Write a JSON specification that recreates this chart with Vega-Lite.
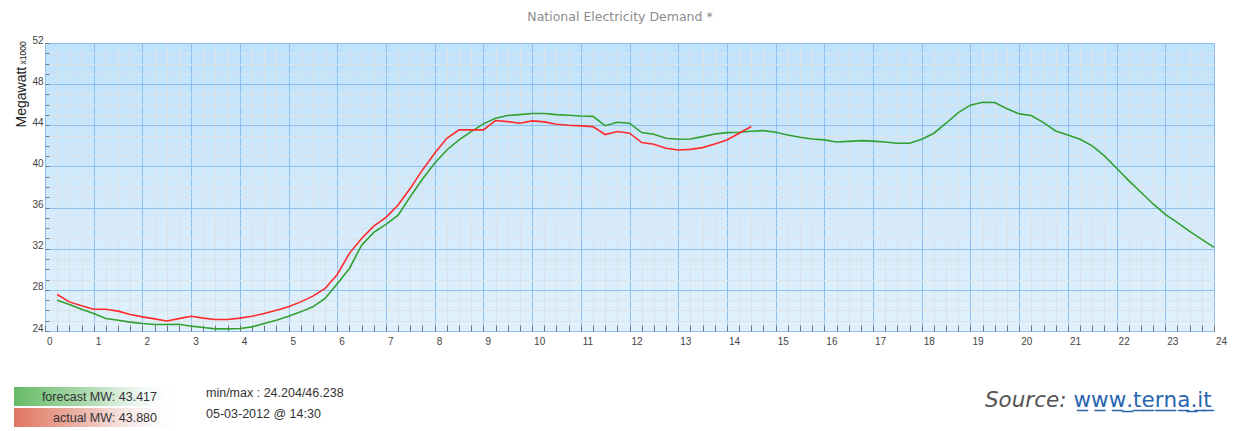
{
  "$schema": "https://vega.github.io/schema/vega-lite/v6.json",
  "autosize": "none",
  "width": 1169,
  "height": 288,
  "padding": {"left": 45, "top": 43, "right": 21, "bottom": 100},
  "background": "white",
  "title": {"text": "National Electricity Demand *", "font": "DejaVu Sans", "fontSize": 12.5, "fontWeight": "normal", "color": "#8c8c8c", "anchor": "middle", "dx": -9.5, "offset": 20, "dy": 18, "baseline": "alphabetic"},
  "config": {
    "view": {"stroke": null, "fill": {"gradient": "linear", "x1": 0, "y1": 0, "x2": 0, "y2": 1, "stops": [{"offset": 0, "color": "#bfe2fb"}, {"offset": 1, "color": "#e1f1fd"}]}}
  },
  "data": {"values": [
    {"h": 0.25, "forecast": 27.0, "actual": 27.55},
    {"h": 0.5, "forecast": 26.58, "actual": 26.83},
    {"h": 0.75, "forecast": 26.12, "actual": 26.45},
    {"h": 1.0, "forecast": 25.7, "actual": 26.12},
    {"h": 1.25, "forecast": 25.22, "actual": 26.12},
    {"h": 1.5, "forecast": 25.05, "actual": 25.93},
    {"h": 1.75, "forecast": 24.86, "actual": 25.6},
    {"h": 2.0, "forecast": 24.73, "actual": 25.37},
    {"h": 2.25, "forecast": 24.63, "actual": 25.18},
    {"h": 2.5, "forecast": 24.63, "actual": 24.98},
    {"h": 2.75, "forecast": 24.66, "actual": 25.2},
    {"h": 3.0, "forecast": 24.47, "actual": 25.44},
    {"h": 3.25, "forecast": 24.34, "actual": 25.25},
    {"h": 3.5, "forecast": 24.204, "actual": 25.12},
    {"h": 3.75, "forecast": 24.21, "actual": 25.12},
    {"h": 4.0, "forecast": 24.24, "actual": 25.25},
    {"h": 4.25, "forecast": 24.4, "actual": 25.44},
    {"h": 4.5, "forecast": 24.73, "actual": 25.7},
    {"h": 4.75, "forecast": 25.05, "actual": 26.02},
    {"h": 5.0, "forecast": 25.44, "actual": 26.35},
    {"h": 5.25, "forecast": 25.86, "actual": 26.83},
    {"h": 5.5, "forecast": 26.35, "actual": 27.39},
    {"h": 5.75, "forecast": 27.16, "actual": 28.14},
    {"h": 6.0, "forecast": 28.6, "actual": 29.5},
    {"h": 6.25, "forecast": 30.08, "actual": 31.55},
    {"h": 6.5, "forecast": 32.35, "actual": 33.0},
    {"h": 6.75, "forecast": 33.59, "actual": 34.2},
    {"h": 7.0, "forecast": 34.37, "actual": 35.05},
    {"h": 7.25, "forecast": 35.27, "actual": 36.25},
    {"h": 7.5, "forecast": 37.06, "actual": 37.87},
    {"h": 7.75, "forecast": 38.78, "actual": 39.66},
    {"h": 8.0, "forecast": 40.31, "actual": 41.28},
    {"h": 8.25, "forecast": 41.6, "actual": 42.74},
    {"h": 8.5, "forecast": 42.58, "actual": 43.55},
    {"h": 8.75, "forecast": 43.39, "actual": 43.55},
    {"h": 9.0, "forecast": 44.14, "actual": 43.55},
    {"h": 9.25, "forecast": 44.69, "actual": 44.46},
    {"h": 9.5, "forecast": 44.95, "actual": 44.36},
    {"h": 9.75, "forecast": 45.04, "actual": 44.2},
    {"h": 10.0, "forecast": 45.14, "actual": 44.43},
    {"h": 10.25, "forecast": 45.14, "actual": 44.33},
    {"h": 10.5, "forecast": 45.04, "actual": 44.1},
    {"h": 10.75, "forecast": 44.98, "actual": 44.0},
    {"h": 11.0, "forecast": 44.9, "actual": 43.94},
    {"h": 11.25, "forecast": 44.87, "actual": 43.87},
    {"h": 11.5, "forecast": 43.96, "actual": 43.1},
    {"h": 11.75, "forecast": 44.3, "actual": 43.39},
    {"h": 12.0, "forecast": 44.2, "actual": 43.23},
    {"h": 12.25, "forecast": 43.29, "actual": 42.32},
    {"h": 12.5, "forecast": 43.13, "actual": 42.16},
    {"h": 12.75, "forecast": 42.74, "actual": 41.77},
    {"h": 13.0, "forecast": 42.64, "actual": 41.6},
    {"h": 13.25, "forecast": 42.67, "actual": 41.66},
    {"h": 13.5, "forecast": 42.9, "actual": 41.83},
    {"h": 13.75, "forecast": 43.16, "actual": 42.19},
    {"h": 14.0, "forecast": 43.29, "actual": 42.58},
    {"h": 14.25, "forecast": 43.32, "actual": 43.23},
    {"h": 14.5, "forecast": 43.417, "actual": 43.88},
    {"h": 14.75, "forecast": 43.48},
    {"h": 15.0, "forecast": 43.32},
    {"h": 15.25, "forecast": 43.06},
    {"h": 15.5, "forecast": 42.84},
    {"h": 15.75, "forecast": 42.67},
    {"h": 16.0, "forecast": 42.58},
    {"h": 16.25, "forecast": 42.38},
    {"h": 16.5, "forecast": 42.44},
    {"h": 16.75, "forecast": 42.51},
    {"h": 17.0, "forecast": 42.46},
    {"h": 17.25, "forecast": 42.38},
    {"h": 17.5, "forecast": 42.25},
    {"h": 17.75, "forecast": 42.25},
    {"h": 18.0, "forecast": 42.64},
    {"h": 18.25, "forecast": 43.23},
    {"h": 18.5, "forecast": 44.2},
    {"h": 18.75, "forecast": 45.24},
    {"h": 19.0, "forecast": 45.96},
    {"h": 19.25, "forecast": 46.238},
    {"h": 19.5, "forecast": 46.21},
    {"h": 19.75, "forecast": 45.6},
    {"h": 20.0, "forecast": 45.11},
    {"h": 20.25, "forecast": 44.95},
    {"h": 20.5, "forecast": 44.26},
    {"h": 20.75, "forecast": 43.45},
    {"h": 21.0, "forecast": 43.06},
    {"h": 21.25, "forecast": 42.64},
    {"h": 21.5, "forecast": 42.0},
    {"h": 21.75, "forecast": 41.02},
    {"h": 22.0, "forecast": 39.82},
    {"h": 22.25, "forecast": 38.62},
    {"h": 22.5, "forecast": 37.49},
    {"h": 22.75, "forecast": 36.35},
    {"h": 23.0, "forecast": 35.34},
    {"h": 23.25, "forecast": 34.53},
    {"h": 23.5, "forecast": 33.69},
    {"h": 23.75, "forecast": 32.91},
    {"h": 24.0, "forecast": 32.13}
  ]},
  "resolve": {"axis": {"x": "independent", "y": "independent"}},
  "layer": [
    {
      "mark": {"type": "line", "strokeWidth": 1.6},
      "encoding": {
        "x": {"field": "h", "type": "quantitative",
          "scale": {"domain": [0, 24], "nice": false, "zero": false},
          "axis": {
            "values": [0,0.25,0.5,0.75,1,1.25,1.5,1.75,2,2.25,2.5,2.75,3,3.25,3.5,3.75,4,4.25,4.5,4.75,5,5.25,5.5,5.75,6,6.25,6.5,6.75,7,7.25,7.5,7.75,8,8.25,8.5,8.75,9,9.25,9.5,9.75,10,10.25,10.5,10.75,11,11.25,11.5,11.75,12,12.25,12.5,12.75,13,13.25,13.5,13.75,14,14.25,14.5,14.75,15,15.25,15.5,15.75,16,16.25,16.5,16.75,17,17.25,17.5,17.75,18,18.25,18.5,18.75,19,19.25,19.5,19.75,20,20.25,20.5,20.75,21,21.25,21.5,21.75,22,22.25,22.5,22.75,23,23.25,23.5,23.75,24],
            "labelExpr": "datum.value % 1 === 0 ? format(datum.value, 'd') : ''",
            "grid": true,
            "gridColor": {"condition": {"test": "datum.value % 1 === 0", "value": "#8dbff0"}, "value": "#dde2e7"},
            "gridWidth": 1,
            "domain": false,
            "ticks": true, "tickSize": -6, "tickColor": "#777777", "tickWidth": 1,
            "labelAlign": "left", "labelOffset": 1.5, "labelBaseline": "top", "labelPadding": 11,
            "labelFont": "Liberation Sans", "labelFontSize": 10, "labelColor": "#444444",
            "labelOverlap": false, "labelFlush": false,
            "title": "Source:", "titleFont": "DejaVu Sans", "titleFontStyle": "italic", "titleFontWeight": "normal",
            "titleFontSize": 21.5, "titleColor": "#555555", "titleAlign": "right", "titleAnchor": "start",
            "titleX": 1021, "titleY": 75, "titleBaseline": "alphabetic"
          }
        },
        "y": {"field": "forecast", "type": "quantitative",
          "scale": {"domain": [24, 52], "nice": false, "zero": false},
          "axis": {
            "values": [24,25,26,27,28,29,30,31,32,33,34,35,36,37,38,39,40,41,42,43,44,45,46,47,48,49,50,51,52],
            "labelExpr": "datum.value % 4 === 0 ? format(datum.value, 'd') : ''",
            "grid": true,
            "gridColor": {"condition": {"test": "datum.value % 4 === 0", "value": "#8dbff0"}, "value": "#dde2e7"},
            "gridWidth": 1,
            "domain": false,
            "ticks": true, "tickSize": -4, "tickColor": "#777777", "tickWidth": 1,
            "labelBaseline": "alphabetic", "labelPadding": 6, "labelAlign": "right",
            "labelFont": "Liberation Sans", "labelFontSize": 10, "labelColor": "#444444",
            "labelOverlap": false, "labelFlush": false,
            "title": "Megawatt", "titleFont": "Liberation Sans", "titleFontSize": 14, "titleFontWeight": "normal",
            "titleColor": "#222222", "titleAngle": 270, "titleAlign": "left", "titleBaseline": "alphabetic",
            "titleX": -20, "titleY": 84
          }
        },
        "color": {"datum": "forecast MW: 43.417", "type": "nominal",
          "scale": {"domain": ["forecast MW: 43.417", "actual MW: 43.880"], "range": ["#30a030", "#ff2a2a"]},
          "legend": {
            "orient": "none", "legendX": 92, "legendY": 343.5, "direction": "vertical",
            "symbolType": "M-13.3,-0.95H2.8V0.95H-13.3Z", "symbolSize": 400, "symbolStrokeWidth": 0,
            "labelAlign": "right", "labelOffset": 0, "labelBaseline": "middle",
            "labelFont": "Liberation Sans", "labelFontSize": 12.5, "labelColor": "#333333", "labelLimit": 300,
            "rowPadding": 1,
            "title": ["min/max : 24.204/46.238", "05-03-2012 @ 14:30"],
            "titleOrient": "right", "titleAnchor": "start", "titleBaseline": "top",
            "titleFont": "Liberation Sans", "titleFontSize": 12.5, "titleFontWeight": "normal", "titleColor": "#333333",
            "titleLineHeight": 21, "titlePadding": 31, "titleLimit": 400,
            "encode": {"symbols": {"update": {
              "fill": [
                {"test": "datum.value === 'forecast MW: 43.417'", "value": {"gradient": "linear", "x1": 0, "y1": 0, "x2": 1, "y2": 0, "stops": [{"offset": 0, "color": "#66bb66"}, {"offset": 0.5, "color": "#b6ddb8"}, {"offset": 1, "color": "rgba(240,248,252,0)"}]}},
                {"value": {"gradient": "linear", "x1": 0, "y1": 0, "x2": 1, "y2": 0, "stops": [{"offset": 0, "color": "#e07560"}, {"offset": 0.5, "color": "#efc2ba"}, {"offset": 1, "color": "rgba(246,244,248,0)"}]}}
              ],
              "stroke": {"value": "transparent"},
              "strokeWidth": {"value": 0},
              "opacity": {"value": 1}
            }}}
          }
        }
      }
    },
    {
      "mark": {"type": "line", "strokeWidth": 1.6},
      "encoding": {
        "x": {"field": "h", "type": "quantitative",
          "axis": {"orient": "top", "labels": false, "ticks": false, "domain": false, "grid": false,
            "title": "w\u0332w\u0332w\u0332.\u0332t\u0332e\u0332r\u0332n\u0332a\u0332.\u0332i\u0332t\u0332",
            "titleFont": "DejaVu Sans", "titleFontSize": 21.5, "titleFontWeight": "normal", "titleColor": "#2a66b0",
            "titleAlign": "left", "titleAnchor": "start", "titleX": 1028, "titleY": 363, "titleBaseline": "alphabetic"}
        },
        "y": {"field": "actual", "type": "quantitative",
          "axis": {"orient": "right", "labels": false, "ticks": false, "domain": false, "grid": false,
            "title": "x1000", "titleFont": "Liberation Sans", "titleFontSize": 8.5, "titleFontWeight": "normal",
            "titleColor": "#222222", "titleAngle": 270, "titleAlign": "left", "titleBaseline": "alphabetic",
            "titleX": -1189, "titleY": 21}
        },
        "color": {"datum": "actual MW: 43.880", "type": "nominal"}
      }
    }
  ]
}
